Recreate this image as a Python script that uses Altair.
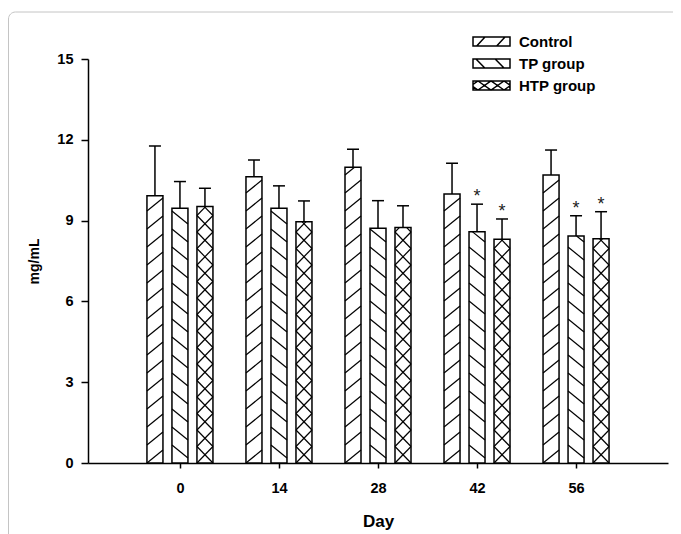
import math
import altair as alt
import pandas as pd

# ---------------- data ----------------
days = [0, 14, 28, 42, 56]
groups = ["Control", "TP group", "HTP group"]
control_mean = [9.92, 10.63, 10.98, 9.99, 10.69]
control_err = [1.85, 0.62, 0.67, 1.14, 0.93]
tp_mean = [9.46, 9.46, 8.72, 8.59, 8.43]
tp_err = [0.99, 0.83, 1.02, 1.02, 0.75]
htp_mean = [9.52, 8.96, 8.74, 8.31, 8.33]
htp_err = [0.68, 0.77, 0.81, 0.75, 1.00]
tp_sig = [False, False, False, True, True]
htp_sig = [False, False, False, True, True]
y_ticks = [0, 3, 6, 9, 12, 15]

# ---------------- layout / style ----------------
W, H = 580, 404
XDOM = [-13, 69]
YDOM = [0, 15]
PXD = W / (XDOM[1] - XDOM[0])      # px per day
PXU = H / (YDOM[1] - YDOM[0])      # px per mg/mL
STEP_PX = 25
BAR_PX = 16
CAP_PX = 12
FONT = "Liberation Sans"

# hatch: list of (direction, rise_px, spacing_px)
hatch = {
    "Control": [("up", 13, 18)],
    "TP group": [("down", 13, 18)],
    "HTP group": [("up", 16.5, 16.5), ("down", 16.5, 16.5)],
}

means = {"Control": control_mean, "TP group": tp_mean, "HTP group": htp_mean}
errs = {"Control": control_err, "TP group": tp_err, "HTP group": htp_err}
sigs = {"Control": [False] * 5, "TP group": tp_sig, "HTP group": htp_sig}


def segments(direction, rise, S, w, h):
    k = rise / w
    out = []
    for n in range(int(math.floor(-rise / S)) - 1, int(math.ceil((h + rise) / S)) + 2):
        c = n * S
        if direction == "up":
            xa = max(0.0, -c / k)
            xb = min(w, (h - c) / k)
            if xb - xa > 0.3:
                out.append((xa, c + k * xa, xb, c + k * xb))
        else:
            xa = max(0.0, (c - h) / k)
            xb = min(w, c / k)
            if xb - xa > 0.3:
                out.append((xa, c - k * xa, xb, c - k * xb))
    return out


bars, lines, errbars, caps, stars = [], [], [], [], []
for gi, g in enumerate(groups):
    for di, d in enumerate(days):
        v, e = means[g][di], errs[g][di]
        xc = d + (gi - 1) * STEP_PX / PXD
        x0 = xc - BAR_PX / 2 / PXD
        x1 = xc + BAR_PX / 2 / PXD
        bars.append({"xa": x0, "xb": x1, "ya": 0, "yb": v, "group": g, "xc": xc})
        for (dr, rise, S) in hatch[g]:
            for (sx0, sy0, sx1, sy1) in segments(dr, rise, S, BAR_PX, v * PXU):
                lines.append({"xa": x0 + sx0 / PXD, "xb": x0 + sx1 / PXD,
                              "ya": sy0 / PXU, "yb": sy1 / PXU})
        errbars.append({"xa": xc, "ya": v, "yb": v + e})
        caps.append({"xa": xc - CAP_PX / 2 / PXD, "xb": xc + CAP_PX / 2 / PXD, "ya": v + e})
        if sigs[g][di]:
            stars.append({"xa": xc, "ya": v + e})

bars_df = pd.DataFrame(bars)
lines_df = pd.DataFrame(lines)
err_df = pd.DataFrame(errbars)
cap_df = pd.DataFrame(caps)
star_df = pd.DataFrame(stars)
legend_df = pd.DataFrame({"xa": [d for d in days[:3]], "ya": [0, 0, 0], "group": groups})

# legend symbol paths (unit = sqrt(symbolSize)/2 px)
box = "M-7.22,-1H1V1H-7.22Z"
path_control = box + "M-6.4,1L-4.56,-1M-1.96,1L-0.11,-1"
path_tp = box + "M-6.56,-1L-4.6,1M-2.3,-1L-0.33,1"
path_htp = (box + "M-6.11,1L-3.22,-1L-0.33,1M-6.11,-1L-3.22,1L-0.33,-1"
            "M-6.11,-1L-7.22,-0.23M-6.11,1L-7.22,0.23"
            "M-0.33,-1L1,-0.08M-0.33,1L1,0.08")

xscale = alt.Scale(domain=XDOM, nice=False, zero=False)
yscale = alt.Scale(domain=YDOM, nice=False)
xaxis = alt.Axis(values=days, title="Day", grid=False, tickSize=5, labelPadding=13,
                 titlePadding=19, titleFontSize=17, labelFontSize=14.5)
yaxis = alt.Axis(values=y_ticks, title="mg/mL", grid=False, tickSize=7, labelPadding=8,
                 titlePadding=15, titleFontSize=14, labelFontSize=14.5)


def X(f="xa"):
    return alt.X(f + ":Q", scale=xscale, axis=xaxis)


def Y(f="ya"):
    return alt.Y(f + ":Q", scale=yscale, axis=yaxis)


frame = alt.Chart(pd.DataFrame({"k": [0]})).mark_rect(
    fill="transparent", stroke="#c4c4c4", strokeWidth=1, cornerRadius=7, clip=False
).encode(x=alt.value(-79.5), x2=alt.value(700), y=alt.value(-47), y2=alt.value(520))

bar_fill = alt.Chart(bars_df).mark_rect(fill="white", stroke=None).encode(
    x=X(), x2="xb:Q", y=Y(), y2="yb:Q")

hatch_layer = alt.Chart(lines_df).mark_rule(color="black", strokeWidth=1.2).encode(
    x=X(), x2="xb:Q", y=Y(), y2="yb:Q")

bar_outline = alt.Chart(bars_df).mark_rect(fill="transparent", stroke="black",
                                           strokeWidth=1.5).encode(
    x=X(), x2="xb:Q", y=Y(), y2="yb:Q")

err_layer = alt.Chart(err_df).mark_rule(color="black", strokeWidth=1.5).encode(
    x=X(), y=Y(), y2="yb:Q")

cap_layer = alt.Chart(cap_df).mark_rule(color="black", strokeWidth=1.5).encode(
    x=X(), x2="xb:Q", y=Y())

star_layer = alt.Chart(star_df).mark_text(text="*", font=FONT, fontSize=18, color="#222",
                                          baseline="alphabetic", dy=-2).encode(
    x=X(), y=Y())

legend_layer = alt.Chart(legend_df).mark_point(opacity=0, color="black", filled=False).encode(
    x=X(), y=Y(),
    shape=alt.Shape("group:N",
                    scale=alt.Scale(domain=groups, range=[path_control, path_tp, path_htp]),
                    legend=alt.Legend(orient="none", legendX=410, legendY=-25, title=None,
                                      labelFont=FONT, labelFontSize=15, labelFontWeight="bold",
                                      labelColor="black", symbolSize=81, symbolStrokeWidth=1.5,
                                      symbolStrokeColor="black", symbolFillColor="white",
                                      symbolOpacity=1, rowPadding=6, labelOffset=6, padding=0)))

chart = alt.layer(frame, bar_fill, hatch_layer, bar_outline, err_layer, cap_layer,
                  star_layer, legend_layer).properties(
    width=W, height=H,
    padding={"left": 80, "top": 51, "right": 5, "bottom": 71},
    autosize=alt.AutoSizeParams(type="none"),
).configure_view(stroke=None).configure_axis(
    domainColor="black", domainWidth=1.5, tickColor="black", tickWidth=1.5,
    labelFont=FONT, labelFontWeight="bold", labelColor="black",
    titleFont=FONT, titleFontWeight="bold", titleColor="black",
)

chart.save("out.html", embed_options={"renderer": "svg", "actions": False})
